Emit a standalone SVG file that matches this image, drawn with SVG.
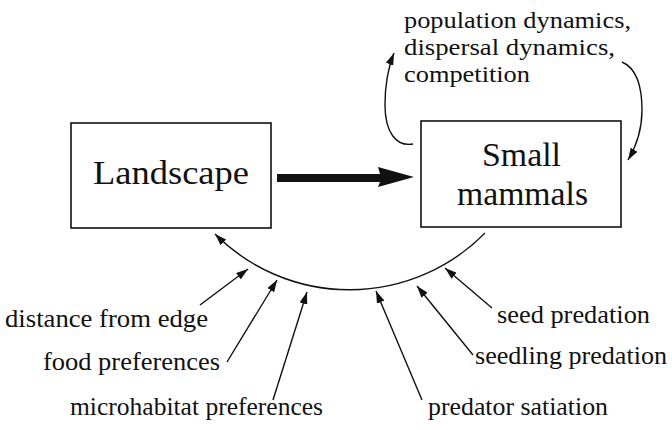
<svg xmlns="http://www.w3.org/2000/svg" width="672" height="430" viewBox="0 0 672 430">
<style>
.box{fill:#fff;stroke:#111;stroke-width:1.6}
text{font-family:"Liberation Serif","Times New Roman",serif;fill:#111}
.big{font-size:33px}
.top{font-size:24px}
.bot{font-size:26px}
.ln{fill:none;stroke:#111;stroke-width:1.4}
</style>
<defs>
<marker id="ah" markerUnits="userSpaceOnUse" markerWidth="12" markerHeight="8" refX="12" refY="4" orient="auto">
<path d="M0,0 L12,4 L0,8 z" fill="#111"/>
</marker>
</defs>
<rect width="672" height="430" fill="#fff"/>
<g id="landscape">
<rect class="box" x="71" y="123" width="200" height="105"/>
<text class="big" x="93" y="184" textLength="156" lengthAdjust="spacingAndGlyphs">Landscape</text>
</g>
<g id="small-mammals">
<rect class="box" x="421" y="121" width="200" height="106"/>
<text class="big" x="482" y="166" textLength="79" lengthAdjust="spacingAndGlyphs">Small</text>
<text class="big" x="457" y="205" textLength="131" lengthAdjust="spacingAndGlyphs">mammals</text>
</g>
<g id="feedback-label">
<text class="top" x="404" y="28" textLength="227" lengthAdjust="spacingAndGlyphs">population dynamics,</text>
<text class="top" x="404" y="55" textLength="211" lengthAdjust="spacingAndGlyphs">dispersal dynamics,</text>
<text class="top" x="404" y="82" textLength="126" lengthAdjust="spacingAndGlyphs">competition</text>
</g>
<g id="label-distance"><text class="bot" x="5" y="327" textLength="203" lengthAdjust="spacingAndGlyphs">distance from edge</text></g>
<g id="label-food"><text class="bot" x="43" y="370" textLength="177" lengthAdjust="spacingAndGlyphs">food preferences</text></g>
<g id="label-micro"><text class="bot" x="70" y="415" textLength="253" lengthAdjust="spacingAndGlyphs">microhabitat preferences</text></g>
<g id="label-seed"><text class="bot" x="497" y="323" textLength="153" lengthAdjust="spacingAndGlyphs">seed predation</text></g>
<g id="label-seedling"><text class="bot" x="475" y="364" textLength="192" lengthAdjust="spacingAndGlyphs">seedling predation</text></g>
<g id="label-predator"><text class="bot" x="428" y="415" textLength="180" lengthAdjust="spacingAndGlyphs">predator satiation</text></g>
<g id="connectors">
<path d="M277,174 L380,174 L378,167 L414,177 L378,187 L380,182 L277,182 z" fill="#111"/>
<path class="ln" d="M413,144 C396,147 385,132 385,105 C385,82 388,68 394,53" marker-end="url(#ah)"/>
<path class="ln" d="M622,62 C636,68 642,85 642,110 C642,130 637,145 628,160" marker-end="url(#ah)"/>
<path class="ln" d="M485,233 A190,190 0 0 1 215,234" marker-end="url(#ah)"/>
<path class="ln" d="M200,305 L248,269" marker-end="url(#ah)"/>
<path class="ln" d="M227,362 L277,280" marker-end="url(#ah)"/>
<path class="ln" d="M273,400 L307,292" marker-end="url(#ah)"/>
<path class="ln" d="M422,400 L376,291" marker-end="url(#ah)"/>
<path class="ln" d="M473,355 L417,286" marker-end="url(#ah)"/>
<path class="ln" d="M492,308 L445,268" marker-end="url(#ah)"/>
</g>
</svg>
